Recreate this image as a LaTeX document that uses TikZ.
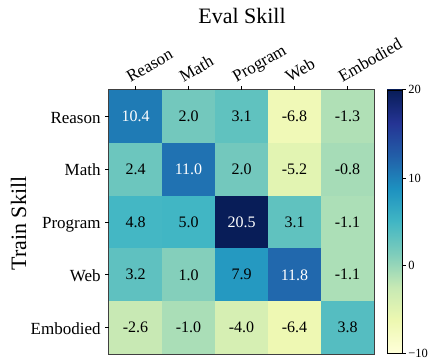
\documentclass[tikz,border=0pt]{standalone}
\usepackage{fontspec}
\setmainfont{Liberation Serif}

% YlGnBu anchors
\definecolor{yg0}{RGB}{255,255,217}
\definecolor{yg1}{RGB}{237,248,177}
\definecolor{yg2}{RGB}{199,233,180}
\definecolor{yg3}{RGB}{127,205,187}
\definecolor{yg4}{RGB}{65,182,196}
\definecolor{yg5}{RGB}{29,145,192}
\definecolor{yg6}{RGB}{34,94,168}
\definecolor{yg7}{RGB}{37,52,148}
\definecolor{yg8}{RGB}{8,29,88}
\pgfdeclareverticalshading{ylgnbu}{100bp}{color(0bp)=(yg0); color(25bp)=(yg0); color(31.25bp)=(yg1); color(37.5bp)=(yg2); color(43.75bp)=(yg3); color(50bp)=(yg4); color(56.25bp)=(yg5); color(62.5bp)=(yg6); color(68.75bp)=(yg7); color(75bp)=(yg8); color(100bp)=(yg8)}

% cell colours
\definecolor{reasonReason}{RGB}{31,123,181}
\definecolor{reasonMath}{RGB}{115,200,189}
\definecolor{reasonProgram}{RGB}{96,194,191}
\definecolor{reasonWeb}{RGB}{240,249,183}
\definecolor{reasonEmbodied}{RGB}{176,224,182}
\definecolor{mathReason}{RGB}{108,198,190}
\definecolor{mathMath}{RGB}{32,114,178}
\definecolor{mathProgram}{RGB}{115,200,189}
\definecolor{mathWeb}{RGB}{226,244,178}
\definecolor{mathEmbodied}{RGB}{166,220,183}
\definecolor{programReason}{RGB}{68,183,196}
\definecolor{programMath}{RGB}{65,182,196}
\definecolor{programProgram}{RGB}{8,29,88}
\definecolor{programWeb}{RGB}{96,194,191}
\definecolor{programEmbodied}{RGB}{172,223,183}
\definecolor{webReason}{RGB}{95,193,192}
\definecolor{webMath}{RGB}{132,207,187}
\definecolor{webProgram}{RGB}{37,153,193}
\definecolor{webWeb}{RGB}{33,104,173}
\definecolor{webEmbodied}{RGB}{172,223,183}
\definecolor{embReason}{RGB}{200,233,180}
\definecolor{embMath}{RGB}{170,222,183}
\definecolor{embProgram}{RGB}{214,239,179}
\definecolor{embWeb}{RGB}{238,248,179}
\definecolor{embEmbodied}{RGB}{85,189,193}

\begin{document}
\begin{tikzpicture}[x=1pt, y=1pt]
    \tikzset{
      cell/.style={rectangle, inner sep=0pt, minimum width=53pt, minimum height=52.8pt, font=\fontsize{16}{18}\selectfont},
      axtick/.style={line width=0.8pt, black},
      ticklabel/.style={inner sep=0pt, font=\fontsize{17}{19}\selectfont},
      barlabel/.style={inner sep=0pt, anchor=west, font=\fontsize{12.5}{14}\selectfont}
    }
    \useasboundingbox (0,0) rectangle (428,363);

    \node[cell, fill=reasonReason, text=white] (rr) at (135.5, 246.6) {10.4};
    \node[cell, fill=reasonMath] (rm) at (188.5, 246.6) {2.0};
    \node[cell, fill=reasonProgram] (rp) at (241.5, 246.6) {3.1};
    \node[cell, fill=reasonWeb] (rw) at (294.5, 246.6) {-6.8};
    \node[cell, fill=reasonEmbodied] (re) at (347.5, 246.6) {-1.3};

    \node[cell, fill=mathReason] (mr) at (135.5, 193.8) {2.4};
    \node[cell, fill=mathMath, text=white] (mm) at (188.5, 193.8) {11.0};
    \node[cell, fill=mathProgram] (mp) at (241.5, 193.8) {2.0};
    \node[cell, fill=mathWeb] (mw) at (294.5, 193.8) {-5.2};
    \node[cell, fill=mathEmbodied] (me) at (347.5, 193.8) {-0.8};

    \node[cell, fill=programReason] (pr) at (135.5, 141.0) {4.8};
    \node[cell, fill=programMath] (pm) at (188.5, 141.0) {5.0};
    \node[cell, fill=programProgram, text=white] (pp) at (241.5, 141.0) {20.5};
    \node[cell, fill=programWeb] (pw) at (294.5, 141.0) {3.1};
    \node[cell, fill=programEmbodied] (pe) at (347.5, 141.0) {-1.1};

    \node[cell, fill=webReason] (wr) at (135.5, 88.2) {3.2};
    \node[cell, fill=webMath] (wm) at (188.5, 88.2) {1.0};
    \node[cell, fill=webProgram] (wp) at (241.5, 88.2) {7.9};
    \node[cell, fill=webWeb, text=white] (ww) at (294.5, 88.2) {11.8};
    \node[cell, fill=webEmbodied] (we) at (347.5, 88.2) {-1.1};

    \node[cell, fill=embReason] (er) at (135.5, 35.4) {-2.6};
    \node[cell, fill=embMath] (em) at (188.5, 35.4) {-1.0};
    \node[cell, fill=embProgram] (ep) at (241.5, 35.4) {-4.0};
    \node[cell, fill=embWeb] (ew) at (294.5, 35.4) {-6.4};
    \node[cell, fill=embEmbodied] (ee) at (347.5, 35.4) {3.8};

    \draw[black!75, line width=0.9pt] (rr.north west) rectangle (ee.south east);

    % top axis
    \foreach \c in {rr, rm, rp, rw, re}
      \draw[axtick] (\c.north) -- ++(0, 3.5);
    \node[ticklabel, rotate=30, anchor=base west] (xreason) at ([xshift=-5pt, yshift=7pt]rr.north) {Reason};
    \node[ticklabel, rotate=30, anchor=base west] (xmath) at ([xshift=-5pt, yshift=7pt]rm.north) {Math};
    \node[ticklabel, rotate=30, anchor=base west] (xprogram) at ([xshift=-5pt, yshift=7pt]rp.north) {Program};
    \node[ticklabel, rotate=30, anchor=base west] (xweb) at ([xshift=-5pt, yshift=7pt]rw.north) {Web};
    \node[ticklabel, rotate=30, anchor=base west] (xembodied) at ([xshift=-5pt, yshift=7pt]re.north) {Embodied};
    \node[font=\fontsize{22}{26}\selectfont, anchor=base] (evalskill) at (242, 339.7) {Eval Skill};

    % left axis
    \foreach \c in {rr, mr, pr, wr, er}
      \draw[axtick] (\c.west) -- ++(-3.5, 0);
    \node[ticklabel, anchor=base east] (yreason) at ([xshift=-8pt, yshift=-6.8pt]rr.west) {Reason};
    \node[ticklabel, anchor=base east] (ymath) at ([xshift=-8pt, yshift=-6.8pt]mr.west) {Math};
    \node[ticklabel, anchor=base east] (yprogram) at ([xshift=-8pt, yshift=-6.8pt]pr.west) {Program};
    \node[ticklabel, anchor=base east] (yweb) at ([xshift=-8pt, yshift=-6.8pt]wr.west) {Web};
    \node[ticklabel, anchor=base east] (yembodied) at ([xshift=-8pt, yshift=-6.8pt]er.west) {Embodied};
    \node[font=\fontsize{22}{26}\selectfont, rotate=90, anchor=base] (trainskill) at (26, 139.5) {Train Skill};

    % colour bar
    \node[draw=black, line width=0.8pt, shading=ylgnbu, rectangle, inner sep=0pt, minimum width=15pt, minimum height=263pt] (cbar) at (394.5, 141.5) {};
    \draw[axtick] (cbar.north east) -- ++(3.5, 0) node[barlabel, right=2pt] (bar20) {20};
    \draw[axtick] ([yshift=175.3pt]cbar.south east) -- ++(3.5, 0) node[barlabel, right=2pt] (bar10) {10};
    \draw[axtick] ([yshift=87.7pt]cbar.south east) -- ++(3.5, 0) node[barlabel, right=2pt] (bar0) {0};
    \draw[axtick] (cbar.south east) -- ++(3.5, 0) node[barlabel, right=2pt] (barm10) {−10};
  \end{tikzpicture}
\end{document}
